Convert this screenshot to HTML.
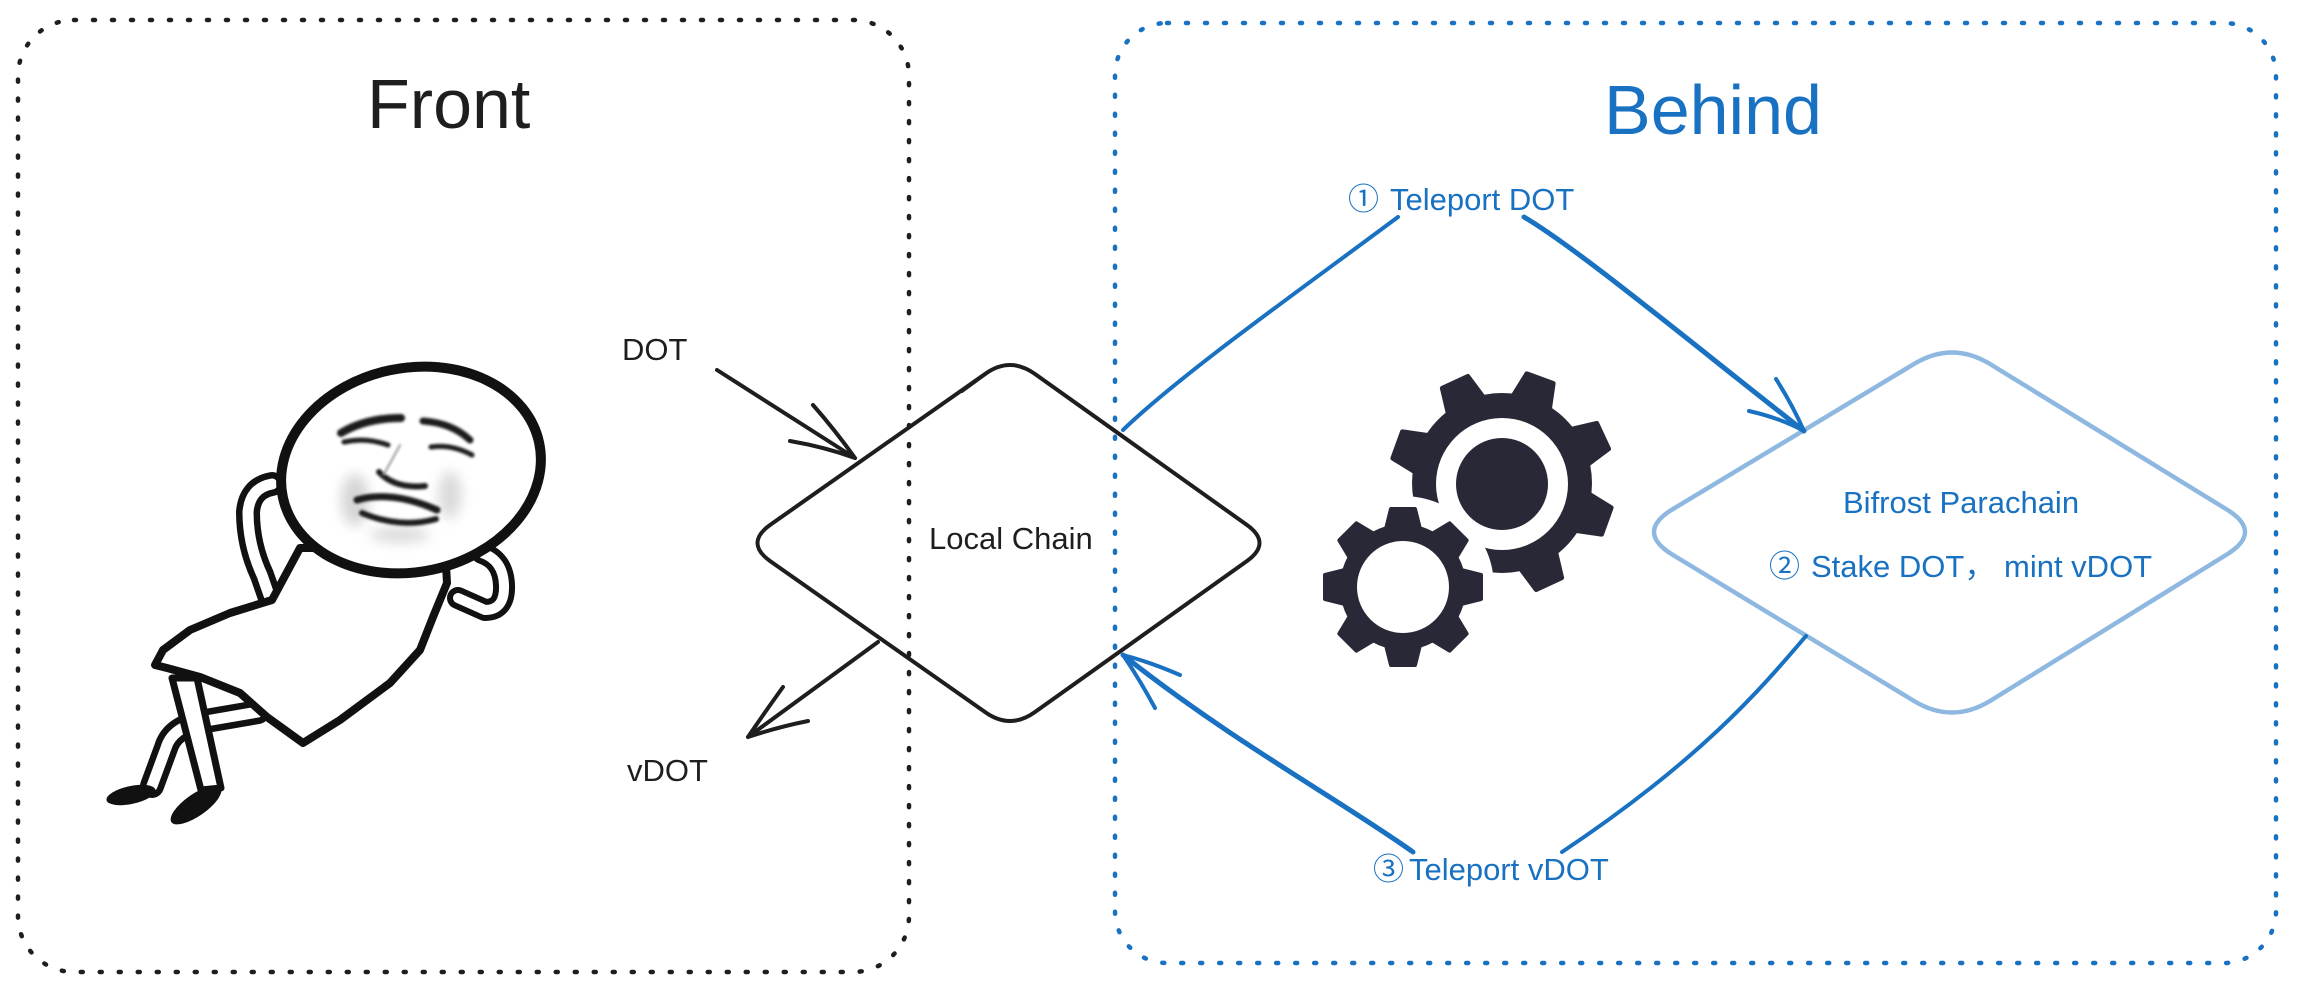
<!DOCTYPE html>
<html>
<head>
<meta charset="utf-8">
<style>
html,body{margin:0;padding:0;background:#fff;}
svg{display:block;}
.lbl{font-family:"Liberation Sans","Noto Sans CJK SC",sans-serif;font-size:31px;}
</style>
</head>
<body>
<svg width="2297" height="991" viewBox="0 0 2297 991" xmlns="http://www.w3.org/2000/svg">
<defs>
  <filter id="soft" x="-20%" y="-20%" width="140%" height="140%"><feGaussianBlur stdDeviation="1.4"/></filter>
  <filter id="soft2" x="-50%" y="-50%" width="200%" height="200%"><feGaussianBlur stdDeviation="6"/></filter>
</defs>
<rect width="2297" height="991" fill="#fff"/>

<!-- Boxes -->
<rect x="18" y="20" width="891" height="952" rx="56" ry="56" fill="none" stroke="#1e1e1e" stroke-width="4.5" stroke-dasharray="2 17" stroke-linecap="round"/>
<rect x="1115" y="23" width="1161" height="940" rx="52" ry="52" fill="none" stroke="#1971c2" stroke-width="4.5" stroke-dasharray="2 17" stroke-linecap="round"/>

<!-- Titles -->
<text x="367" y="128" font-family="Liberation Sans, sans-serif" font-size="70" fill="#1e1e1e">Front</text>
<text x="1604" y="134" font-family="Liberation Sans, sans-serif" font-size="70" fill="#1971c2">Behind</text>

<!-- Meme figure -->
<g stroke-linecap="round" stroke-linejoin="round">
  <!-- leg 2 (back) -->
  <path d="M258,712 L200,722 Q172,728 166,748 L152,786" fill="none" stroke="#111" stroke-width="24"/>
  <path d="M258,712 L200,722 Q172,728 166,748 L152,786" fill="none" stroke="#fff" stroke-width="11"/>
  <ellipse cx="131" cy="795" rx="25" ry="9" transform="rotate(-12 131 795)" fill="#111"/>
  <!-- leg 1 (front) -->
  <polygon points="172,678 197,678 221,788 201,790" fill="#fff" stroke="#111" stroke-width="7"/>
  <ellipse cx="196" cy="805" rx="30" ry="11" transform="rotate(-35 196 805)" fill="#111"/>
  <!-- left arm -->
  <path d="M272,484 Q250,488 248,512 Q248,545 262,575 L270,598" fill="none" stroke="#111" stroke-width="24"/>
  <path d="M272,484 Q250,488 248,512 Q248,545 262,575 L270,598" fill="none" stroke="#fff" stroke-width="11"/>
  <!-- right arm -->
  <path d="M482,553 Q503,560 504,585 Q505,610 485,610 L458,598" fill="none" stroke="#111" stroke-width="22"/>
  <path d="M482,553 Q503,560 504,585 Q505,610 485,610 L458,598" fill="none" stroke="#fff" stroke-width="10"/>
  <!-- dress -->
  <polygon points="300,548 272,600 230,613 190,630 163,650 155,665 167,668 200,677 240,693 267,717 303,743 340,720 390,683 420,650 433,617 447,583 445,548" fill="#fff" stroke="#111" stroke-width="8"/>
  <!-- head -->
  <ellipse cx="411" cy="470" rx="131" ry="102" transform="rotate(-12 411 470)" fill="#fff" stroke="#111" stroke-width="10"/>
  <!-- face shading -->
  <g filter="url(#soft2)" opacity="0.35">
    <ellipse cx="355" cy="500" rx="14" ry="26" fill="#888"/>
    <ellipse cx="450" cy="495" rx="12" ry="24" fill="#999"/>
    <ellipse cx="400" cy="535" rx="30" ry="8" fill="#999"/>
  </g>
  <!-- face features -->
  <g filter="url(#soft)" fill="none" stroke="#1a1a1a">
    <path d="M341,433 Q366,418 401,418" stroke-width="8"/>
    <path d="M344,442 Q366,437 388,445" stroke-width="5"/>
    <path d="M423,421 Q452,423 470,440" stroke-width="7"/>
    <path d="M431,447 Q452,444 472,455" stroke-width="5"/>
    <path d="M379,472 Q395,489 425,486" stroke-width="6"/>
    <path d="M357,500 Q392,490 437,510" stroke-width="7"/>
    <path d="M362,513 Q400,529 436,519" stroke-width="6"/>
    <path d="M400,445 Q392,460 384,474" stroke-width="2" stroke="#999"/>
  </g>
</g>

<!-- Local Chain diamond -->
<g fill="none" stroke="#1e1e1e" stroke-linecap="round" stroke-linejoin="round">
  <path d="M985,374 Q1010,356 1035,374 L1247,525 Q1272,543 1247,561 L1035,712 Q1010,730 985,712 L770,561 Q745,543 770,525 Z" stroke-width="4"/>
  <path d="M962,392 L988,373 Q1012,356 1038,376 L1062,393" stroke-width="2.2"/>
  <path d="M800,503 L880,447" stroke-width="2"/>
</g>

<!-- DOT arrow -->
<g fill="none" stroke="#1e1e1e" stroke-width="4" stroke-linecap="round" stroke-linejoin="round">
  <path d="M717,370 L855,458"/>
  <path d="M790,441 Q825,447 855,458 Q835,430 813,405"/>
  <!-- vDOT arrow -->
  <path d="M878,642 L748,737"/>
  <path d="M783,687 Q765,712 748,737 Q778,727 808,721"/>
</g>

<!-- Labels black -->
<text class="lbl" x="622" y="360" fill="#1e1e1e">DOT</text>
<text class="lbl" x="627" y="781" fill="#1e1e1e">vDOT</text>
<text class="lbl" x="929" y="549" fill="#1e1e1e">Local Chain</text>

<!-- Gears -->
<g fill="#282837" stroke="#282837" stroke-linejoin="round">
  <circle cx="1502" cy="483" r="90" stroke="none"/>
  <g stroke-width="5">
    <polygon points="1482,401 1488,372 1516,372 1522,401" transform="rotate(20 1502 483)"/>
    <polygon points="1482,401 1488,372 1516,372 1522,401" transform="rotate(65 1502 483)"/>
    <polygon points="1482,401 1488,372 1516,372 1522,401" transform="rotate(110 1502 483)"/>
    <polygon points="1482,401 1488,372 1516,372 1522,401" transform="rotate(155 1502 483)"/>
    <polygon points="1482,401 1488,372 1516,372 1522,401" transform="rotate(200 1502 483)"/>
    <polygon points="1482,401 1488,372 1516,372 1522,401" transform="rotate(245 1502 483)"/>
    <polygon points="1482,401 1488,372 1516,372 1522,401" transform="rotate(290 1502 483)"/>
    <polygon points="1482,401 1488,372 1516,372 1522,401" transform="rotate(335 1502 483)"/>
  </g>
</g>
<circle cx="1502" cy="484" r="66" fill="#fff"/>
<circle cx="1502" cy="484" r="46" fill="#282837"/>
<circle cx="1403" cy="587" r="91" fill="#fff"/>
<g fill="#282837" stroke="#282837" stroke-linejoin="round">
  <circle cx="1403" cy="587" r="63" stroke="none"/>
  <g stroke-width="4">
    <polygon points="1386,529 1391,509 1415,509 1420,529"/>
    <polygon points="1386,529 1391,509 1415,509 1420,529" transform="rotate(45 1403 587)"/>
    <polygon points="1386,529 1391,509 1415,509 1420,529" transform="rotate(90 1403 587)"/>
    <polygon points="1386,529 1391,509 1415,509 1420,529" transform="rotate(135 1403 587)"/>
    <polygon points="1386,529 1391,509 1415,509 1420,529" transform="rotate(180 1403 587)"/>
    <polygon points="1386,529 1391,509 1415,509 1420,529" transform="rotate(225 1403 587)"/>
    <polygon points="1386,529 1391,509 1415,509 1420,529" transform="rotate(270 1403 587)"/>
    <polygon points="1386,529 1391,509 1415,509 1420,529" transform="rotate(315 1403 587)"/>
  </g>
</g>
<circle cx="1403" cy="587" r="46" fill="#fff"/>

<!-- Bifrost diamond -->
<path d="M1914,364 Q1952,341 1990,364 L2226,509 Q2264,532 2226,555 L1990,701 Q1952,724 1914,701 L1673,555 Q1635,532 1673,509 Z" fill="none" stroke="#8fb8e0" stroke-width="4.5" stroke-linejoin="round"/>

<!-- Blue connectors -->
<g fill="none" stroke="#1971c2" stroke-linecap="round" stroke-linejoin="round">
  <path d="M1123,430 C1180,375 1300,290 1398,217" stroke-width="4"/>
  <path d="M1524,217 C1580,250 1700,350 1804,431" stroke-width="5"/>
  <path d="M1749,411 Q1780,418 1804,431 Q1792,404 1776,379" stroke-width="4"/>
  <path d="M1806,636 C1760,690 1700,760 1562,852" stroke-width="4"/>
  <path d="M1413,852 C1340,800 1230,740 1123,655" stroke-width="5"/>
  <path d="M1180,675 Q1150,662 1123,655 Q1140,680 1155,708" stroke-width="4"/>
</g>

<!-- Blue labels -->
<text class="lbl" x="1348" y="210" fill="#1971c2">①</text>
<text class="lbl" x="1390" y="210" fill="#1971c2">Teleport DOT</text>
<text class="lbl" x="1843" y="513" fill="#1971c2">Bifrost Parachain</text>
<text class="lbl" x="1769" y="577" fill="#1971c2">②</text>
<text class="lbl" x="1811" y="577" fill="#1971c2">Stake DOT，</text>
<text class="lbl" x="2004" y="577" fill="#1971c2">mint vDOT</text>
<text class="lbl" x="1373" y="880" fill="#1971c2">③</text>
<text class="lbl" x="1409" y="880" fill="#1971c2">Teleport vDOT</text>
</svg>
</body>
</html>
